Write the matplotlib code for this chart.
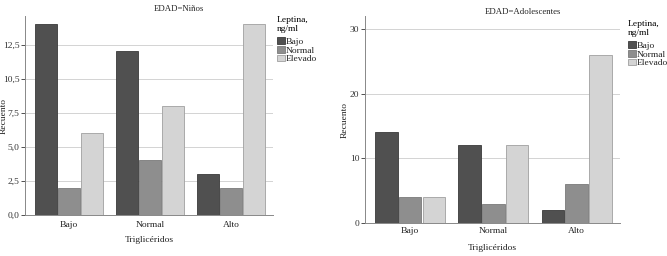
import numpy as np
import matplotlib
matplotlib.use("Agg")
import matplotlib.pyplot as plt
from matplotlib.transforms import blended_transform_factory

plt.rcParams['font.family'] = ['Liberation Serif', 'DejaVu Serif']

# data
categorias = ['Bajo', 'Normal', 'Alto']
series = ['Bajo', 'Normal', 'Elevado']
ninos = {'Bajo': [14, 12, 3], 'Normal': [2, 4, 2], 'Elevado': [6, 8, 14]}
adolescentes = {'Bajo': [14, 12, 2], 'Normal': [4, 3, 6], 'Elevado': [4, 12, 26]}
ticks_ninos = [0, 2.5, 5, 7.5, 10, 12.5]
ticklabels_ninos = ['0,0', '2,5', '5,0', '7,5', '10,5', '12,5']
ticks_adol = [0, 10, 20, 30]

colors = {'Bajo': '#505050', 'Normal': '#8e8e8e', 'Elevado': '#d4d4d4'}
edges = {'Bajo': '#3a3a3a', 'Normal': '#7a7a7a', 'Elevado': '#a0a0a0'}

W, H = 667, 256
FS = 6.8
fig = plt.figure(figsize=(W / 100, H / 100), dpi=100)


def px_axes(l, t, r, b):
    return fig.add_axes([l / W, 1 - b / H, (r - l) / W, (b - t) / H])


def panel(ax, data, ymax, ticks, ticklabels, title, title_x, title_y,
          leg_x, leg_y, xtick_y, xlab_y, ylab_x):
    x = np.arange(len(categorias))
    w = 0.27
    for i, s in enumerate(series):
        ax.bar(x + (i - 1) * 0.285, data[s], width=w, color=colors[s],
               edgecolor=edges[s], linewidth=0.6, label=s, zorder=3)
    ax.set_xlim(-0.54, 2.52)
    ax.set_ylim(0, ymax)
    ax.set_yticks(ticks)
    ax.set_yticklabels(ticklabels)
    ax.set_xticks(x)
    ax.set_xticklabels([])
    ax.tick_params(axis='both', labelsize=FS, colors='#333333', length=3,
                   width=0.6, pad=1)
    ax.tick_params(axis='x', length=0)
    ax.grid(axis='y', color='#cccccc', linewidth=0.6, zorder=0)
    for sp in ['top', 'right']:
        ax.spines[sp].set_visible(False)
    for sp in ['left', 'bottom']:
        ax.spines[sp].set_color('#888888')
        ax.spines[sp].set_linewidth(0.7)
    pos = ax.get_position()
    # category labels at a fixed pixel height
    tr = blended_transform_factory(ax.transData, fig.transFigure)
    for xi, c in zip(x, categorias):
        ax.text(xi, 1 - xtick_y / H, c, transform=tr, fontsize=FS,
                ha='center', va='center', color='#222222')
    ax.set_ylabel('Recuento', fontsize=FS, color='#222222')
    ax.yaxis.set_label_coords((ylab_x / W - pos.x0) / pos.width, 0.5)
    fig.text(title_x / W, 1 - title_y / H, title, fontsize=6.3,
             ha='center', va='center', color='#222222')
    fig.text((pos.x0 + pos.x1) / 2, 1 - xlab_y / H,
             'Triglicéridos', fontsize=FS, ha='center', va='center',
             color='#222222')
    leg = ax.legend(title='Leptina,\nng/ml', loc='upper left',
                    bbox_to_anchor=(leg_x / W, 1 - leg_y / H),
                    bbox_transform=fig.transFigure, frameon=False,
                    fontsize=FS, title_fontsize=FS, handlelength=0.8,
                    handleheight=0.7, handletextpad=0.1, labelspacing=0.0,
                    borderpad=0, borderaxespad=0)
    leg._legend_box.align = 'left'
    leg._legend_box.sep = 3
    for t in leg.get_texts():
        t.set_color('#222222')


ax1 = px_axes(25, 16, 273, 215)
panel(ax1, ninos, 14.6, ticks_ninos, ticklabels_ninos, 'EDAD=Niños',
      179, 9, 277, 16, 225, 240, 8)

ax2 = px_axes(365, 16, 620, 223)
panel(ax2, adolescentes, 32, ticks_adol, [str(t) for t in ticks_adol],
      'EDAD=Adolescentes', 523, 12, 628, 20, 231, 248, 349)

fig.savefig('out.png', dpi=100)
